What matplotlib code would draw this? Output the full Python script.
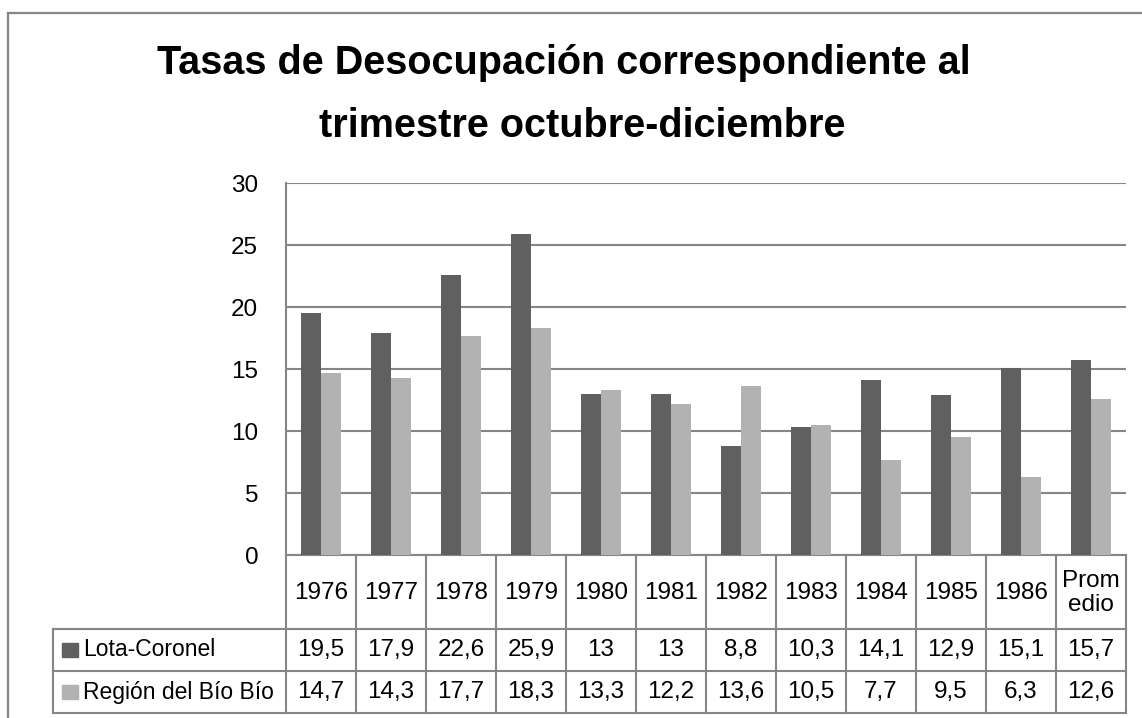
import matplotlib
matplotlib.use("Agg")
import matplotlib.pyplot as plt
from matplotlib.lines import Line2D
from matplotlib.patches import Rectangle

categories = ["1976", "1977", "1978", "1979", "1980", "1981", "1982",
              "1983", "1984", "1985", "1986", "Prom\nedio"]
lota = [19.5, 17.9, 22.6, 25.9, 13, 13, 8.8, 10.3, 14.1, 12.9, 15.1, 15.7]
region = [14.7, 14.3, 17.7, 18.3, 13.3, 12.2, 13.6, 10.5, 7.7, 9.5, 6.3, 12.6]
series_names = ["Lota-Coronel", "Región del Bío Bío"]
title_lines = ["Tasas de Desocupación correspondiente al",
               "trimestre octubre-diciembre"]
yticks = [0, 5, 10, 15, 20, 25, 30]

DARK = "#606060"
LIGHT = "#b2b2b2"
GRID = "#868686"
plt.rcParams["font.family"] = ["Liberation Sans", "DejaVu Sans"]
FS = 17.5

W, H = 1142, 718
fig = plt.figure(figsize=(W / 100, H / 100), dpi=100)


def px(x0, y0, x1, y1):
    # pixel box (top-left origin) -> figure fraction rect
    return [x0 / W, 1 - y1 / H, (x1 - x0) / W, (y1 - y0) / H]


# outer chart border
fig.add_artist(Line2D([8 / W, 8 / W], [0, 1 - 13 / H], color=GRID, lw=1.6,
                      transform=fig.transFigure))
fig.add_artist(Line2D([8 / W, 1], [1 - 13 / H, 1 - 13 / H], color=GRID, lw=1.6,
                      transform=fig.transFigure))

# title, two lines
fig.text(564 / W, 1 - 63 / H, title_lines[0], ha="center", va="center",
         fontsize=28.5, fontweight="bold")
fig.text(582 / W, 1 - 126 / H, title_lines[1], ha="center", va="center",
         fontsize=28.5, fontweight="bold")

# bar plot area
ax = fig.add_axes(px(286, 183, 1126, 555))
n = len(categories)
xs = list(range(n))
bw = 0.286
ax.bar([x - bw / 2 for x in xs], lota, bw, color=DARK, zorder=3)
ax.bar([x + bw / 2 for x in xs], region, bw, color=LIGHT, zorder=3)
ax.set_xlim(-0.5, n - 0.5)
ax.set_ylim(0, 30)
ax.set_yticks(yticks)
ax.set_yticklabels([str(t) for t in yticks], fontsize=FS)
ax.tick_params(axis="y", length=0, pad=20)
ax.set_xticks([])
ax.grid(axis="y", color=GRID, lw=1.5, zorder=0)
for s in ["top", "right"]:
    ax.spines[s].set_visible(False)
for s in ["left", "bottom"]:
    ax.spines[s].set_color(GRID)
    ax.spines[s].set_linewidth(1.5)

# data table below (x in category units, y in pixels from 555)
left_px = 53
tx0 = -0.5 - (286 - left_px) / 70.0
tab = fig.add_axes(px(left_px, 555, 1126, 714))
tab.set_xlim(tx0, n - 0.5)
tab.set_ylim(159, 0)
tab.axis("off")

kw = dict(color=GRID, lw=1.5, clip_on=False)
for i in range(n + 1):
    tab.plot([i - 0.5, i - 0.5], [0, 158], **kw)
tab.plot([tx0, tx0], [74, 158], **kw)
for yy in [74, 116, 158]:
    tab.plot([tx0, n - 0.5], [yy, yy], **kw)

for i, c in enumerate(categories):
    tab.text(i, 38, c, ha="center", va="center", fontsize=FS, linespacing=1.1)


def fmt(v):
    return f"{v:g}".replace(".", ",")


rows = [lota, region]
colors = [DARK, LIGHT]
for r, (vals, name, col) in enumerate(zip(rows, series_names, colors)):
    yc = 95 + r * 42
    tab.add_patch(Rectangle((tx0 + 9 / 70, yc - 7), 16 / 70, 14, color=col,
                            clip_on=False))
    tab.text(tx0 + 30 / 70, yc, name, ha="left", va="center", fontsize=16.5)
    for i, v in enumerate(vals):
        tab.text(i, yc, fmt(v), ha="center", va="center", fontsize=FS)

fig.savefig("out.png", dpi=100, facecolor="white")
